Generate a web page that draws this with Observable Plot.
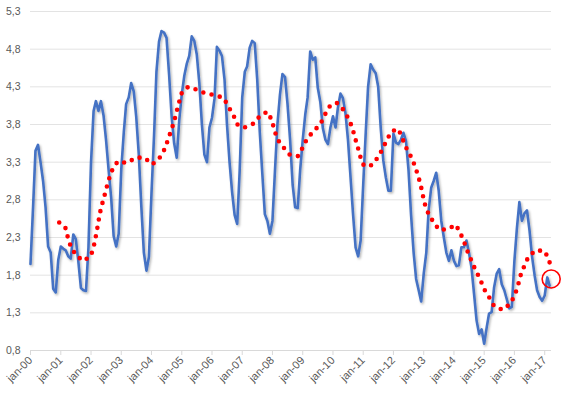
<!DOCTYPE html>
<html>
<head>
<meta charset="utf-8">
<script src="https://cdn.jsdelivr.net/npm/d3@7"></script>
<script src="https://cdn.jsdelivr.net/npm/@observablehq/plot@0.6"></script>
<style>
  html, body { margin: 0; padding: 0; background: #ffffff; }
  #chart { width: 568px; height: 393px; }
</style>
</head>
<body>
<div id="chart"></div>
<script>
// Monthly series, starting jan-00
const seriesStart = "2000-01-01";
const monthlyValues = [
  1.95, 2.7, 3.45, 3.53, 3.3, 3.05, 2.7, 2.18, 2.1, 1.62, 1.57, 2.0,
  2.18, 2.15, 2.13, 2.05, 2.02, 2.34, 2.28, 1.98, 1.63, 1.6, 1.59, 2.17,
  3.3, 3.98, 4.11, 3.98, 4.11, 3.92, 3.6, 3.2, 2.83, 2.32, 2.18, 2.35,
  3.2, 3.7, 4.07, 4.16, 4.35, 4.24, 3.9, 3.4, 2.7, 2.1, 1.86, 2.04,
  2.88, 3.65, 4.5, 4.9, 5.04, 5.02, 4.95, 4.46, 3.9, 3.55, 3.36, 3.85,
  4.2, 4.45, 4.6, 4.71, 4.97, 4.91, 4.73, 4.35, 3.8, 3.4, 3.3, 3.76,
  3.89, 4.15, 4.83, 4.78, 4.71, 4.4, 3.8, 3.3, 2.9, 2.6, 2.48, 3.18,
  4.16, 4.5, 4.57, 4.82, 4.91, 4.88, 4.4, 3.7, 3.14, 2.61, 2.52, 2.35,
  2.52, 3.2, 3.8, 4.2, 4.47, 4.43, 4.07, 3.6, 3.0, 2.7, 2.69, 3.2,
  3.6, 3.94, 4.16, 4.77, 4.66, 4.69, 4.29, 4.1, 3.75, 3.6, 3.54, 3.76,
  3.91, 3.76, 4.02, 4.21, 4.15, 3.95, 3.6, 3.1, 2.6, 2.17, 2.05, 2.26,
  3.0, 3.7, 4.3, 4.6, 4.53, 4.48, 4.3, 3.75, 3.32, 3.1, 2.92, 2.92,
  3.68, 3.56, 3.54, 3.6, 3.69, 3.58, 3.2, 2.6, 2.1, 1.75, 1.6, 1.45,
  1.82, 2.1, 2.66, 2.96, 3.05, 3.16, 2.92, 2.52, 2.3, 2.1, 1.99, 2.13,
  1.99, 1.92, 1.93, 2.17, 2.17, 2.26, 2.1, 1.9, 1.55, 1.2, 1.02, 1.08,
  0.89, 1.11, 1.29, 1.31, 1.64, 1.82, 1.88, 1.68, 1.6, 1.48, 1.36, 1.38,
  1.99, 2.43, 2.77, 2.52, 2.62, 2.66, 2.4, 2.05, 1.8, 1.6, 1.51, 1.46,
  1.53, 1.77, 1.66
];

// Moving-average (red dotted) line
const trendDates = [
  "2000-12-13","2001-02-25","2001-03-25","2001-05-01","2001-07-01","2001-09-25","2001-12-28",
  "2002-02-01","2002-02-25","2002-03-19","2002-04-10","2002-05-01","2002-06-04","2002-07-07",
  "2002-08-07","2002-09-16","2002-11-19","2003-03-13","2003-06-25","2003-10-07","2004-01-10",
  "2004-04-04","2004-06-01","2004-07-13","2004-08-22","2004-09-28","2004-10-28","2004-11-28",
  "2005-01-01","2005-03-19","2005-07-10","2005-10-19","2006-02-13","2006-05-22","2006-07-22",
  "2006-09-22","2006-11-10","2007-01-28","2007-05-13","2007-08-01","2007-10-28","2007-12-25",
  "2008-01-22","2008-03-04","2008-05-10","2008-07-28","2008-11-04","2009-01-04","2009-02-25",
  "2009-05-13","2009-08-04","2009-09-25","2009-11-22","2010-02-13","2010-05-04","2010-07-07",
  "2010-08-22","2010-09-22","2010-10-25","2010-11-25","2011-01-10","2011-04-10","2011-06-25",
  "2011-08-25","2011-10-16","2011-12-10","2012-03-01","2012-04-16","2012-06-04","2012-07-28",
  "2012-09-13","2012-10-22","2012-11-25","2012-12-19","2013-01-16","2013-02-25","2013-04-25",
  "2013-07-07","2013-10-19","2014-01-22","2014-03-19","2014-05-07","2014-06-16","2014-08-04",
  "2014-09-22","2014-11-16","2014-12-28","2015-02-28","2015-05-01","2015-08-10","2015-11-13",
  "2016-01-07","2016-02-13","2016-03-13","2016-04-25","2016-06-16","2016-09-13","2017-01-01",
  "2017-02-22","2017-03-01"
];
const trendValues = [
  2.50, 2.43, 2.31, 2.18, 2.07, 1.99, 2.05,
  2.17, 2.30, 2.43, 2.57, 2.69, 2.82, 2.96,
  3.08, 3.20, 3.31, 3.29, 3.36, 3.36, 3.27,
  3.35, 3.46, 3.58, 3.71, 3.83, 3.96, 4.09,
  4.22, 4.30, 4.26, 4.21, 4.19, 4.15, 4.03,
  3.91, 3.79, 3.76, 3.81, 3.91, 3.97, 3.86,
  3.73, 3.60, 3.50, 3.40, 3.38, 3.50, 3.62,
  3.71, 3.81, 3.93, 4.04, 4.09, 4.00, 3.88,
  3.76, 3.63, 3.51, 3.38, 3.25, 3.26, 3.36,
  3.48, 3.60, 3.71, 3.74, 3.62, 3.49, 3.38,
  3.26, 3.13, 3.00, 2.87, 2.74, 2.62, 2.51,
  2.40, 2.41, 2.47, 2.36, 2.23, 2.11, 1.98,
  1.86, 1.74, 1.62, 1.51, 1.39, 1.34, 1.42,
  1.54, 1.66, 1.79, 1.91, 2.04, 2.13, 2.12,
  2.00, 1.97
];

// Highlight circle around the latest value
const highlightDate = "2017-03-20";
const highlightValue = 1.75;

// Axes
const yTicks = [0.8, 1.3, 1.8, 2.3, 2.8, 3.3, 3.8, 4.3, 4.8, 5.3];
const xTickYears = d3.range(2000, 2018);
const xDomain = ["2000-01-01", "2017-03-24"];

const start = new Date(seriesStart);
const series = monthlyValues.map((v, i) => ({date: d3.utcMonth.offset(start, i), value: v}));
const trend = trendDates.map((d, i) => ({date: new Date(d), value: trendValues[i]}));
const xTicks = xTickYears.map(y => new Date(Date.UTC(y, 0, 1)));
const fmtY = d => d.toFixed(1).replace(".", ",");
const fmtX = d => "jan-" + d3.utcFormat("%y")(d);

const chart = Plot.plot({
  width: 568,
  height: 393,
  marginLeft: 30,
  marginRight: 17,
  marginTop: 11,
  marginBottom: 43,
  style: {fontFamily: "'Liberation Sans', Arial, sans-serif", fontSize: "10px", color: "#595959", background: "#ffffff", overflow: "visible"},
  x: {type: "utc", domain: xDomain.map(d => new Date(d))},
  y: {domain: [0.8, 5.3]},
  marks: [
    Plot.ruleY(yTicks, {stroke: "#e3e3e3", strokeWidth: 1}),
    Plot.ruleY([0.8], {stroke: "#d9d9d9", strokeWidth: 1}),
    Plot.axisY(yTicks, {tickSize: 0, tickPadding: 10, tickFormat: fmtY, fill: "#595959", fontSize: 10.5, label: null}),
    Plot.axisX(xTicks, {tickSize: 5, stroke: "#d9d9d9", tickPadding: 3, tickRotate: -45, tickFormat: fmtX, fill: "#595959", fontSize: 11, label: null}),
    Plot.line(series, {x: "date", y: "value", stroke: "#4472C4", strokeWidth: 2.6, strokeLinejoin: "round"}),
    Plot.line(trend, {x: "date", y: "value", stroke: "#ff0000", strokeWidth: 4.6, strokeDasharray: "0 8.5", strokeLinecap: "round"}),
    Plot.dot([{date: new Date(highlightDate), value: highlightValue}], {x: "date", y: "value", r: 9, stroke: "#ff0000", strokeWidth: 1.6, fill: "none"})
  ]
});

// subtle drop shadow on the blue line, as in the original
const ns = "http://www.w3.org/2000/svg";
const svg = chart.tagName.toLowerCase() === "svg" ? chart : chart.querySelector("svg");
const defs = document.createElementNS(ns, "defs");
defs.innerHTML = '<filter id="shadow" x="-5%" y="-5%" width="110%" height="110%"><feDropShadow dx="1.2" dy="1.5" stdDeviation="1" flood-color="#000" flood-opacity="0.3"/></filter>';
svg.insertBefore(defs, svg.firstChild);
svg.querySelectorAll('[stroke="#4472C4"]').forEach(g => g.setAttribute("filter", "url(#shadow)"));

document.getElementById("chart").appendChild(chart);
</script>
</body>
</html>
